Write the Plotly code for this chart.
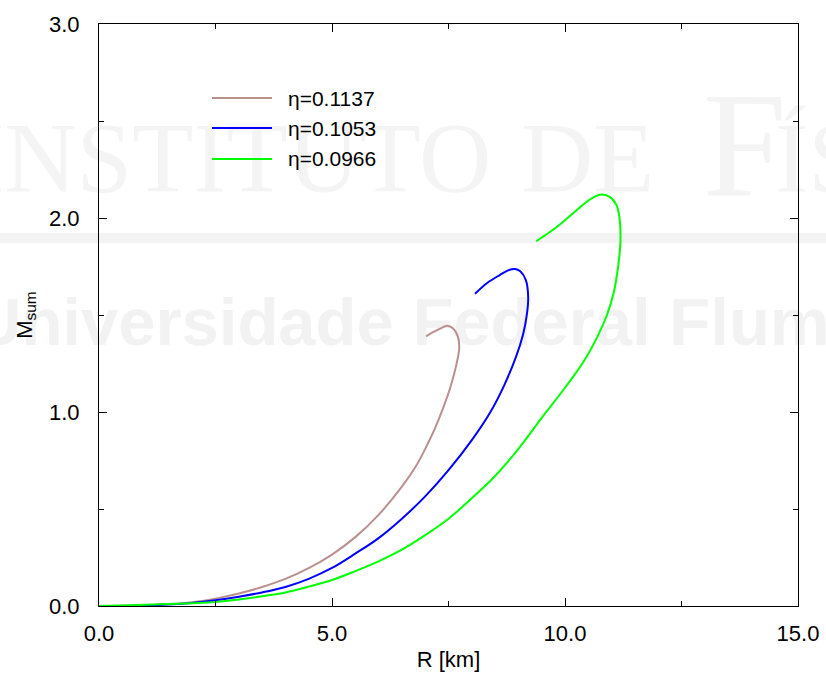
import plotly.graph_objects as go

# ---------------- data ----------------
series_names = ["η=0.1137", "η=0.1053", "η=0.0966"]
series_colors = ["#bc8f8f", "#0000ff", "#00ff00"]

r_1137 = [0.0, 0.5, 1.0, 1.5, 2.0, 2.5, 3.0, 3.5, 4.0, 4.5, 5.0, 5.5, 6.0, 6.5, 6.8, 7.0,
          7.2, 7.4, 7.55, 7.67, 7.73, 7.70, 7.60, 7.47, 7.32, 7.16, 7.02]
m_1137 = [0.0, 0.001, 0.004, 0.010, 0.020, 0.038, 0.064, 0.098, 0.140, 0.195, 0.265, 0.355,
          0.470, 0.615, 0.720, 0.810, 0.910, 1.030, 1.135, 1.245, 1.330, 1.390, 1.430, 1.445,
          1.430, 1.410, 1.390]

r_1053 = [0.0, 1.0, 2.0, 2.5, 3.0, 3.5, 4.0, 4.5, 5.0, 5.5, 6.0, 6.5, 7.0, 7.5, 8.0, 8.4,
          8.7, 8.95, 9.10, 9.18, 9.21, 9.16, 9.04, 8.93, 8.78, 8.60, 8.33, 8.07]
m_1053 = [0.0, 0.003, 0.015, 0.030, 0.048, 0.070, 0.098, 0.140, 0.196, 0.270, 0.350, 0.450,
          0.565, 0.700, 0.855, 1.000, 1.140, 1.285, 1.400, 1.500, 1.590, 1.680, 1.725, 1.737,
          1.730, 1.706, 1.665, 1.610]

r_0966 = [0.0, 0.5, 1.0, 2.0, 2.5, 3.0, 3.5, 4.0, 4.5, 5.0, 5.5, 6.0, 6.5, 7.0, 7.5, 8.0,
          8.5, 9.0, 9.5, 10.0, 10.4, 10.7, 10.9, 11.05, 11.14, 11.19, 11.17, 11.10, 10.95,
          10.75, 10.50, 10.20, 9.80, 9.38]
m_0966 = [0.0, 0.003, 0.006, 0.014, 0.020, 0.033, 0.050, 0.070, 0.100, 0.134, 0.180, 0.230,
          0.290, 0.365, 0.450, 0.555, 0.670, 0.810, 0.970, 1.125, 1.260, 1.390, 1.500, 1.620,
          1.750, 1.880, 2.000, 2.070, 2.110, 2.120, 2.090, 2.030, 1.950, 1.880]

xs = [r_1137, r_1053, r_0966]
ys = [m_1137, m_1053, m_0966]

x_major_ticks = [0, 5, 10, 15]
x_tick_labels = ["0.0", "5.0", "10.0", "15.0"]
y_major_ticks = [0, 1, 2, 3]
y_tick_labels = ["0.0", "1.0", "2.0", "3.0"]

# ---------------- figure ----------------
W, H = 826, 676
ML, MR, MT, MB = 99, 28, 24, 70
PW, PH = W - ML - MR, H - MT - MB


def px_x(p):
    return (p - ML) / PW


def px_y(p):
    return (H - MB - p) / PH


fig = go.Figure()
for name, color, x, y in zip(series_names, series_colors, xs, ys):
    fig.add_trace(go.Scatter(x=x, y=y, mode="lines", name=name,
                             line=dict(color=color, width=2, shape="spline", smoothing=1.0),
                             showlegend=False))

shapes = []
annotations = []

# faint watermark (background decoration)
shapes.append(dict(type="rect", xref="paper", yref="paper", layer="below",
                   x0=px_x(0), x1=px_x(W), y0=px_y(243), y1=px_y(233),
                   fillcolor="#f3f3f3", line=dict(width=0)))


def wm_label(text, x_left, y_center, size, family, color):
    shapes.append(dict(type="rect", xref="paper", yref="paper", layer="below",
                       x0=px_x(x_left), x1=px_x(x_left + 2), y0=px_y(y_center + 1),
                       y1=px_y(y_center - 1), line=dict(width=0),
                       fillcolor="rgba(0,0,0,0)",
                       label=dict(text=text, textposition="middle left",
                                  xanchor="left", yanchor="middle", padding=0,
                                  font=dict(size=size, family=family, color=color))))


serif_c = "#f4f4f4"
wm_label("INSTITUTO", -32, 146, 100, "Liberation Serif", serif_c)
wm_label("DE", 518, 146, 100, "Liberation Serif", serif_c)
wm_label("F", 700, 128, 150, "Liberation Serif", serif_c)
wm_label("ÍSICA", 772, 146, 100, "Liberation Serif", serif_c)
wm_label("<b>Universidade Federal Fluminense</b>", -30, 315, 67, "Liberation Sans", "#f2f2f2")

# manual legend
leg_y = [98, 128, 159]
for name, color, yy in zip(series_names, series_colors, leg_y):
    shapes.append(dict(type="line", xref="paper", yref="paper",
                       x0=px_x(212), x1=px_x(272), y0=px_y(yy), y1=px_y(yy),
                       line=dict(color=color, width=2)))
    annotations.append(dict(text=name, xref="paper", yref="paper",
                            x=px_x(286), y=px_y(yy), xanchor="left", yanchor="middle",
                            showarrow=False,
                            font=dict(size=21, family="Liberation Sans", color="black")))

axis_common = dict(showline=True, linecolor="black", linewidth=1, mirror="allticks",
                   ticks="inside", ticklen=8, tickwidth=1, tickcolor="black",
                   showgrid=False, zeroline=False, automargin=False,
                   tickfont=dict(size=22, family="Liberation Sans", color="black"))

fig.update_layout(
    width=W, height=H,
    margin=dict(l=ML, r=MR, t=MT, b=MB, pad=0),
    paper_bgcolor="white", plot_bgcolor="rgba(0,0,0,0)",
    showlegend=False,
    shapes=shapes, annotations=annotations,
    xaxis=dict(range=[0, 15], tickmode="array", tickvals=x_major_ticks,
               ticktext=x_tick_labels,
               minor=dict(ticks="inside", dtick=2.5, ticklen=5, tickcolor="black"),
               ticklabelstandoff=8,
               title=dict(text="R [km]", standoff=6,
                          font=dict(size=22, family="Liberation Sans", color="black")),
               **axis_common),
    yaxis=dict(range=[0, 3], tickmode="array", tickvals=y_major_ticks,
               ticktext=y_tick_labels,
               minor=dict(ticks="inside", dtick=0.5, ticklen=5, tickcolor="black"),
               ticklabelstandoff=14,
               title=dict(text="M<sub>sum</sub>", standoff=10,
                          font=dict(size=22, family="Liberation Sans", color="black")),
               **axis_common),
)

fig.write_html("out.html")
